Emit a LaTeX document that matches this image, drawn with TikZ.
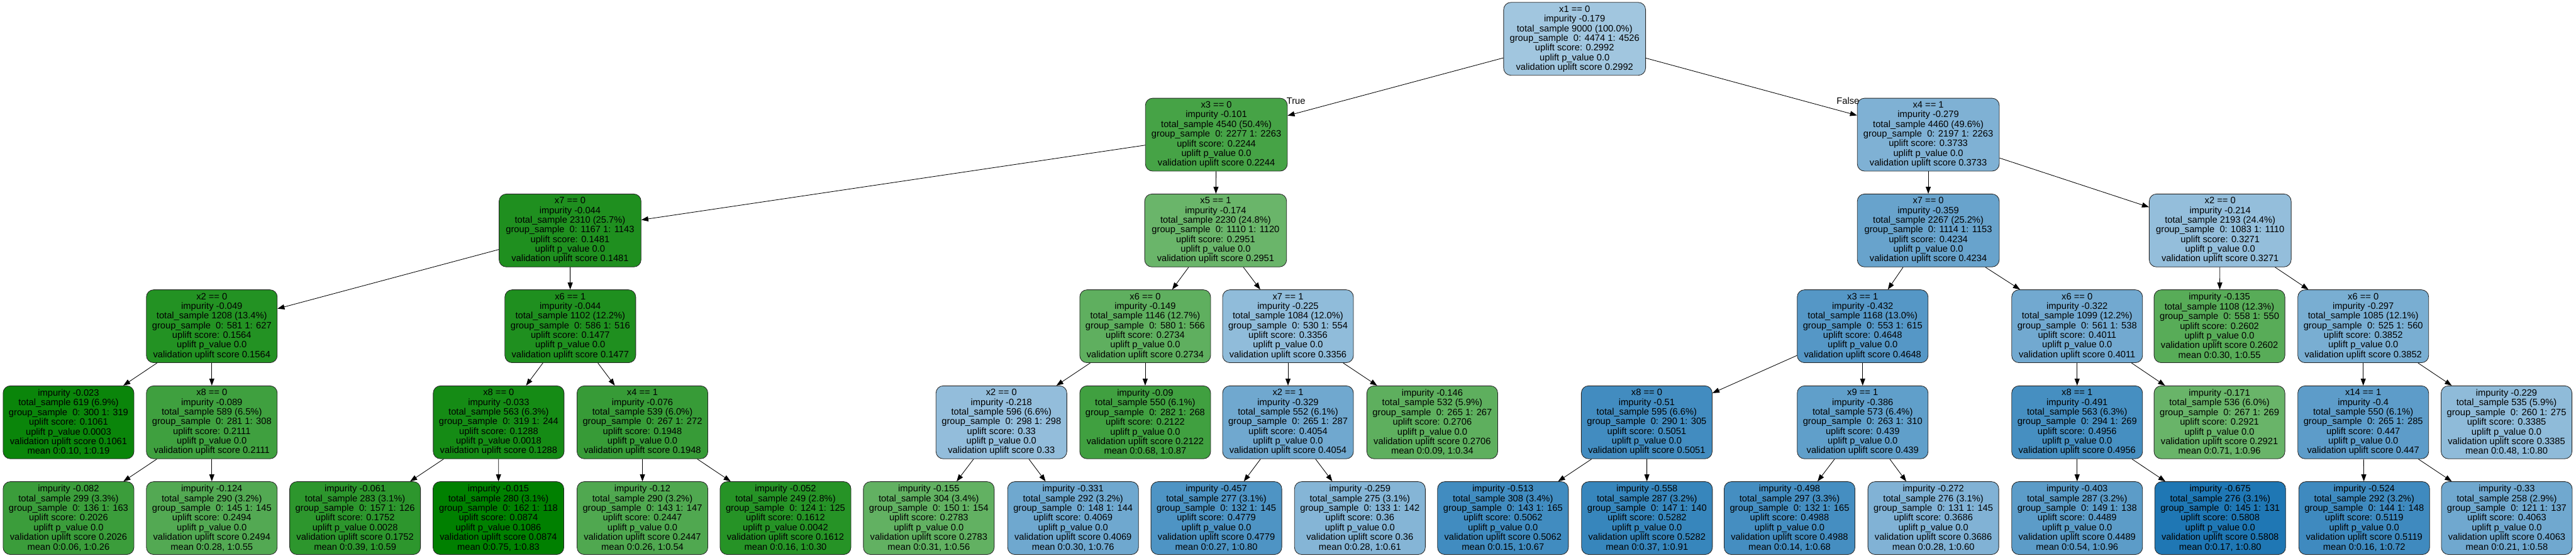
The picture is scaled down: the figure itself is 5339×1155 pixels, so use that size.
\documentclass[tikz,border=0pt]{standalone}
\usepackage{fontspec}
\setmainfont{Liberation Sans}
\usetikzlibrary{arrows.meta}
\newcommand\nfont{\fontsize{5.45}{5.69}\selectfont}
\definecolor{ub}{RGB}{31,119,180}
\definecolor{ug}{RGB}{0,128,0}
\tikzset{
  sc/.code={%
    \ifdim #1pt<0.2992pt
      \pgfmathsetmacro\pp{min(100,57.5+200.7*(0.2992-#1))}%
      \colorlet{nf}{ug!\pp!white}%
    \else
      \pgfmathsetmacro\pp{min(100,42+206*(#1-0.2992))}%
      \colorlet{nf}{ub!\pp!white}%
    \fi
    \pgfkeysalso{fill=nf}},
  tn/.style={draw=black!85, line width=0.011cm, rounded corners=0.15cm, align=center,
    font=\nfont, inner sep=0.02cm, minimum height=1.51cm, minimum width=2.71cm},
  wn/.style={tn, minimum width=2.94cm},
  edge/.style={line width=0.011cm, draw=black, -{Triangle[length=0.145cm,width=0.105cm]}},
  elab/.style={font=\nfont, inner sep=0pt},
}
\begin{document}
\begin{tikzpicture}[x=0.01cm,y=-0.01cm]
\fill[white] (0,0) rectangle (5339,1155);
\useasboundingbox (0,0) rectangle (5339,1155);
% level 0
\node[wn,sc=0.2992] (n0) at (3263.5,80.5) {x1 == 0\\impurity -0.179\\total\_sample 9000 (100.0\%)\\group\_sample\ \ 0: 4474 1: 4526\\uplift score: 0.2992\\uplift p\_value 0.0\\validation uplift score 0.2992};
% level 1
\node[wn,sc=0.2244] (a) at (2521,279) {x3 == 0\\impurity -0.101\\total\_sample 4540 (50.4\%)\\group\_sample\ \ 0: 2277 1: 2263\\uplift score: 0.2244\\uplift p\_value 0.0\\validation uplift score 0.2244};
\node[wn,sc=0.3733] (b) at (3996.5,279) {x4 == 1\\impurity -0.279\\total\_sample 4460 (49.6\%)\\group\_sample\ \ 0: 2197 1: 2263\\uplift score: 0.3733\\uplift p\_value 0.0\\validation uplift score 0.3733};
% level 2
\node[wn,sc=0.1481] (aa) at (1181.5,477.5) {x7 == 0\\impurity -0.044\\total\_sample 2310 (25.7\%)\\group\_sample\ \ 0: 1167 1: 1143\\uplift score: 0.1481\\uplift p\_value 0.0\\validation uplift score 0.1481};
\node[wn,sc=0.2951] (ab) at (2519.5,477.5) {x5 == 1\\impurity -0.174\\total\_sample 2230 (24.8\%)\\group\_sample\ \ 0: 1110 1: 1120\\uplift score: 0.2951\\uplift p\_value 0.0\\validation uplift score 0.2951};
\node[wn,sc=0.4234] (ba) at (3996.5,477.5) {x7 == 0\\impurity -0.359\\total\_sample 2267 (25.2\%)\\group\_sample\ \ 0: 1114 1: 1153\\uplift score: 0.4234\\uplift p\_value 0.0\\validation uplift score 0.4234};
\node[wn,sc=0.3271] (bb) at (4601.5,477.5) {x2 == 0\\impurity -0.214\\total\_sample 2193 (24.4\%)\\group\_sample\ \ 0: 1083 1: 1110\\uplift score: 0.3271\\uplift p\_value 0.0\\validation uplift score 0.3271};
% level 3
\node[tn,sc=0.1564] (aaa) at (439,676) {x2 == 0\\impurity -0.049\\total\_sample 1208 (13.4\%)\\group\_sample\ \ 0: 581 1: 627\\uplift score: 0.1564\\uplift p\_value 0.0\\validation uplift score 0.1564};
\node[tn,sc=0.1477] (aab) at (1182,676) {x6 == 1\\impurity -0.044\\total\_sample 1102 (12.2\%)\\group\_sample\ \ 0: 586 1: 516\\uplift score: 0.1477\\uplift p\_value 0.0\\validation uplift score 0.1477};
\node[tn,sc=0.2734] (aba) at (2373.5,676) {x6 == 0\\impurity -0.149\\total\_sample 1146 (12.7\%)\\group\_sample\ \ 0: 580 1: 566\\uplift score: 0.2734\\uplift p\_value 0.0\\validation uplift score 0.2734};
\node[tn,sc=0.3356] (abb) at (2669.5,676) {x7 == 1\\impurity -0.225\\total\_sample 1084 (12.0\%)\\group\_sample\ \ 0: 530 1: 554\\uplift score: 0.3356\\uplift p\_value 0.0\\validation uplift score 0.3356};
\node[tn,sc=0.4648] (baa) at (3860.5,676) {x3 == 1\\impurity -0.432\\total\_sample 1168 (13.0\%)\\group\_sample\ \ 0: 553 1: 615\\uplift score: 0.4648\\uplift p\_value 0.0\\validation uplift score 0.4648};
\node[tn,sc=0.4011] (bab) at (4305,676) {x6 == 0\\impurity -0.322\\total\_sample 1099 (12.2\%)\\group\_sample\ \ 0: 561 1: 538\\uplift score: 0.4011\\uplift p\_value 0.0\\validation uplift score 0.4011};
\node[tn,sc=0.2602] (bba) at (4600,676) {impurity -0.135\\total\_sample 1108 (12.3\%)\\group\_sample\ \ 0: 558 1: 550\\uplift score: 0.2602\\uplift p\_value 0.0\\validation uplift score 0.2602\\mean 0:0.30, 1:0.55};
\node[tn,sc=0.3852] (bbb) at (4898,676) {x6 == 0\\impurity -0.297\\total\_sample 1085 (12.1\%)\\group\_sample\ \ 0: 525 1: 560\\uplift score: 0.3852\\uplift p\_value 0.0\\validation uplift score 0.3852};
% level 4
\node[tn,sc=0.1061] (aaaa) at (142,875) {impurity -0.023\\total\_sample 619 (6.9\%)\\group\_sample\ \ 0: 300 1: 319\\uplift score: 0.1061\\uplift p\_value 0.0003\\validation uplift score 0.1061\\mean 0:0.10, 1:0.19};
\node[tn,sc=0.2111] (aaab) at (439,875) {x8 == 0\\impurity -0.089\\total\_sample 589 (6.5\%)\\group\_sample\ \ 0: 281 1: 308\\uplift score: 0.2111\\uplift p\_value 0.0\\validation uplift score 0.2111};
\node[tn,sc=0.1288] (aaba) at (1033.5,875) {x8 == 0\\impurity -0.033\\total\_sample 563 (6.3\%)\\group\_sample\ \ 0: 319 1: 244\\uplift score: 0.1288\\uplift p\_value 0.0018\\validation uplift score 0.1288};
\node[tn,sc=0.1948] (aabb) at (1331.5,875) {x4 == 1\\impurity -0.076\\total\_sample 539 (6.0\%)\\group\_sample\ \ 0: 267 1: 272\\uplift score: 0.1948\\uplift p\_value 0.0\\validation uplift score 0.1948};
\node[tn,sc=0.33] (abaa) at (2075.5,875) {x2 == 0\\impurity -0.218\\total\_sample 596 (6.6\%)\\group\_sample\ \ 0: 298 1: 298\\uplift score: 0.33\\uplift p\_value 0.0\\validation uplift score 0.33};
\node[tn,sc=0.2122] (abab) at (2373.5,875) {impurity -0.09\\total\_sample 550 (6.1\%)\\group\_sample\ \ 0: 282 1: 268\\uplift score: 0.2122\\uplift p\_value 0.0\\validation uplift score 0.2122\\mean 0:0.68, 1:0.87};
\node[tn,sc=0.4054] (abba) at (2669.5,875) {x2 == 1\\impurity -0.329\\total\_sample 552 (6.1\%)\\group\_sample\ \ 0: 265 1: 287\\uplift score: 0.4054\\uplift p\_value 0.0\\validation uplift score 0.4054};
\node[tn,sc=0.2706] (abbb) at (2968.5,875) {impurity -0.146\\total\_sample 532 (5.9\%)\\group\_sample\ \ 0: 265 1: 267\\uplift score: 0.2706\\uplift p\_value 0.0\\validation uplift score 0.2706\\mean 0:0.09, 1:0.34};
\node[tn,sc=0.5051] (baaa) at (3413,875) {x8 == 0\\impurity -0.51\\total\_sample 595 (6.6\%)\\group\_sample\ \ 0: 290 1: 305\\uplift score: 0.5051\\uplift p\_value 0.0\\validation uplift score 0.5051};
\node[tn,sc=0.439] (baab) at (3860.5,875) {x9 == 1\\impurity -0.386\\total\_sample 573 (6.4\%)\\group\_sample\ \ 0: 263 1: 310\\uplift score: 0.439\\uplift p\_value 0.0\\validation uplift score 0.439};
\node[tn,sc=0.4956] (baba) at (4305,875) {x8 == 1\\impurity -0.491\\total\_sample 563 (6.3\%)\\group\_sample\ \ 0: 294 1: 269\\uplift score: 0.4956\\uplift p\_value 0.0\\validation uplift score 0.4956};
\node[tn,sc=0.2921] (babb) at (4600,875) {impurity -0.171\\total\_sample 536 (6.0\%)\\group\_sample\ \ 0: 267 1: 269\\uplift score: 0.2921\\uplift p\_value 0.0\\validation uplift score 0.2921\\mean 0:0.71, 1:0.96};
\node[tn,sc=0.447] (bbba) at (4898,875) {x14 == 1\\impurity -0.4\\total\_sample 550 (6.1\%)\\group\_sample\ \ 0: 265 1: 285\\uplift score: 0.447\\uplift p\_value 0.0\\validation uplift score 0.447};
\node[tn,sc=0.3385] (bbbb) at (5195,875) {impurity -0.229\\total\_sample 535 (5.9\%)\\group\_sample\ \ 0: 260 1: 275\\uplift score: 0.3385\\uplift p\_value 0.0\\validation uplift score 0.3385\\mean 0:0.48, 1:0.80};
% level 5
\node[tn,sc=0.2026] (l0) at (142,1073.5) {impurity -0.082\\total\_sample 299 (3.3\%)\\group\_sample\ \ 0: 136 1: 163\\uplift score: 0.2026\\uplift p\_value 0.0\\validation uplift score 0.2026\\mean 0:0.06, 1:0.26};
\node[tn,sc=0.2494] (l1) at (439,1073.5) {impurity -0.124\\total\_sample 290 (3.2\%)\\group\_sample\ \ 0: 145 1: 145\\uplift score: 0.2494\\uplift p\_value 0.0\\validation uplift score 0.2494\\mean 0:0.28, 1:0.55};
\node[tn,sc=0.1752] (l2) at (736,1073.5) {impurity -0.061\\total\_sample 283 (3.1\%)\\group\_sample\ \ 0: 157 1: 126\\uplift score: 0.1752\\uplift p\_value 0.0028\\validation uplift score 0.1752\\mean 0:0.39, 1:0.59};
\node[tn,sc=0.0874] (l3) at (1033,1073.5) {impurity -0.015\\total\_sample 280 (3.1\%)\\group\_sample\ \ 0: 162 1: 118\\uplift score: 0.0874\\uplift p\_value 0.1086\\validation uplift score 0.0874\\mean 0:0.75, 1:0.83};
\node[tn,sc=0.2447] (l4) at (1331.5,1073.5) {impurity -0.12\\total\_sample 290 (3.2\%)\\group\_sample\ \ 0: 143 1: 147\\uplift score: 0.2447\\uplift p\_value 0.0\\validation uplift score 0.2447\\mean 0:0.26, 1:0.54};
\node[tn,sc=0.1612] (l5) at (1628,1073.5) {impurity -0.052\\total\_sample 249 (2.8\%)\\group\_sample\ \ 0: 124 1: 125\\uplift score: 0.1612\\uplift p\_value 0.0042\\validation uplift score 0.1612\\mean 0:0.16, 1:0.30};
\node[tn,sc=0.2783] (l6) at (1925,1073.5) {impurity -0.155\\total\_sample 304 (3.4\%)\\group\_sample\ \ 0: 150 1: 154\\uplift score: 0.2783\\uplift p\_value 0.0\\validation uplift score 0.2783\\mean 0:0.31, 1:0.56};
\node[tn,sc=0.4069] (l7) at (2224,1073.5) {impurity -0.331\\total\_sample 292 (3.2\%)\\group\_sample\ \ 0: 148 1: 144\\uplift score: 0.4069\\uplift p\_value 0.0\\validation uplift score 0.4069\\mean 0:0.30, 1:0.76};
\node[tn,sc=0.4779] (l8) at (2521,1073.5) {impurity -0.457\\total\_sample 277 (3.1\%)\\group\_sample\ \ 0: 132 1: 145\\uplift score: 0.4779\\uplift p\_value 0.0\\validation uplift score 0.4779\\mean 0:0.27, 1:0.80};
\node[tn,sc=0.36] (l9) at (2818.5,1073.5) {impurity -0.259\\total\_sample 275 (3.1\%)\\group\_sample\ \ 0: 133 1: 142\\uplift score: 0.36\\uplift p\_value 0.0\\validation uplift score 0.36\\mean 0:0.28, 1:0.61};
\node[tn,sc=0.5062] (l10) at (3115,1073.5) {impurity -0.513\\total\_sample 308 (3.4\%)\\group\_sample\ \ 0: 143 1: 165\\uplift score: 0.5062\\uplift p\_value 0.0\\validation uplift score 0.5062\\mean 0:0.15, 1:0.67};
\node[tn,sc=0.5282] (l11) at (3413.5,1073.5) {impurity -0.558\\total\_sample 287 (3.2\%)\\group\_sample\ \ 0: 147 1: 140\\uplift score: 0.5282\\uplift p\_value 0.0\\validation uplift score 0.5282\\mean 0:0.37, 1:0.91};
\node[tn,sc=0.4988] (l12) at (3709,1073.5) {impurity -0.498\\total\_sample 297 (3.3\%)\\group\_sample\ \ 0: 132 1: 165\\uplift score: 0.4988\\uplift p\_value 0.0\\validation uplift score 0.4988\\mean 0:0.14, 1:0.68};
\node[tn,sc=0.3686] (l13) at (4007,1073.5) {impurity -0.272\\total\_sample 276 (3.1\%)\\group\_sample\ \ 0: 131 1: 145\\uplift score: 0.3686\\uplift p\_value 0.0\\validation uplift score 0.3686\\mean 0:0.28, 1:0.60};
\node[tn,sc=0.4489] (l14) at (4305,1073.5) {impurity -0.403\\total\_sample 287 (3.2\%)\\group\_sample\ \ 0: 149 1: 138\\uplift score: 0.4489\\uplift p\_value 0.0\\validation uplift score 0.4489\\mean 0:0.54, 1:0.96};
\node[tn,sc=0.5808] (l15) at (4601.5,1073.5) {impurity -0.675\\total\_sample 276 (3.1\%)\\group\_sample\ \ 0: 145 1: 131\\uplift score: 0.5808\\uplift p\_value 0.0\\validation uplift score 0.5808\\mean 0:0.17, 1:0.80};
\node[tn,sc=0.5119] (l16) at (4900,1073.5) {impurity -0.524\\total\_sample 292 (3.2\%)\\group\_sample\ \ 0: 144 1: 148\\uplift score: 0.5119\\uplift p\_value 0.0\\validation uplift score 0.5119\\mean 0:0.16, 1:0.72};
\node[tn,sc=0.4063] (l17) at (5195.5,1073.5) {impurity -0.33\\total\_sample 258 (2.9\%)\\group\_sample\ \ 0: 121 1: 137\\uplift score: 0.4063\\uplift p\_value 0.0\\validation uplift score 0.4063\\mean 0:0.21, 1:0.58};
% edges
\draw[edge] (n0) -- (a);
\draw[edge] (n0) -- (b);
\draw[edge] (a) -- (aa);
\draw[edge] (a) -- (ab);
\draw[edge] (b) -- (ba);
\draw[edge] (b) -- (bb);
\draw[edge] (aa) -- (aaa);
\draw[edge] (aa) -- (aab);
\draw[edge] (ab) -- (aba);
\draw[edge] (ab) -- (abb);
\draw[edge] (ba) -- (baa);
\draw[edge] (ba) -- (bab);
\draw[edge] (bb) -- (bba);
\draw[edge] (bb) -- (bbb);
\draw[edge] (aaa) -- (aaaa);
\draw[edge] (aaa) -- (aaab);
\draw[edge] (aab) -- (aaba);
\draw[edge] (aab) -- (aabb);
\draw[edge] (aba) -- (abaa);
\draw[edge] (aba) -- (abab);
\draw[edge] (abb) -- (abba);
\draw[edge] (abb) -- (abbb);
\draw[edge] (baa) -- (baaa);
\draw[edge] (baa) -- (baab);
\draw[edge] (bab) -- (baba);
\draw[edge] (bab) -- (babb);
\draw[edge] (bbb) -- (bbba);
\draw[edge] (bbb) -- (bbbb);
\draw[edge] (aaab) -- (l0);
\draw[edge] (aaab) -- (l1);
\draw[edge] (aaba) -- (l2);
\draw[edge] (aaba) -- (l3);
\draw[edge] (aabb) -- (l4);
\draw[edge] (aabb) -- (l5);
\draw[edge] (abaa) -- (l6);
\draw[edge] (abaa) -- (l7);
\draw[edge] (abba) -- (l8);
\draw[edge] (abba) -- (l9);
\draw[edge] (baaa) -- (l10);
\draw[edge] (baaa) -- (l11);
\draw[edge] (baab) -- (l12);
\draw[edge] (baab) -- (l13);
\draw[edge] (baba) -- (l14);
\draw[edge] (baba) -- (l15);
\draw[edge] (bbba) -- (l16);
\draw[edge] (bbba) -- (l17);
% edge labels
\node[elab] (tl) at (2686,209) {True};
\node[elab] (fl) at (3830,209) {False};
\end{tikzpicture}
\end{document}
